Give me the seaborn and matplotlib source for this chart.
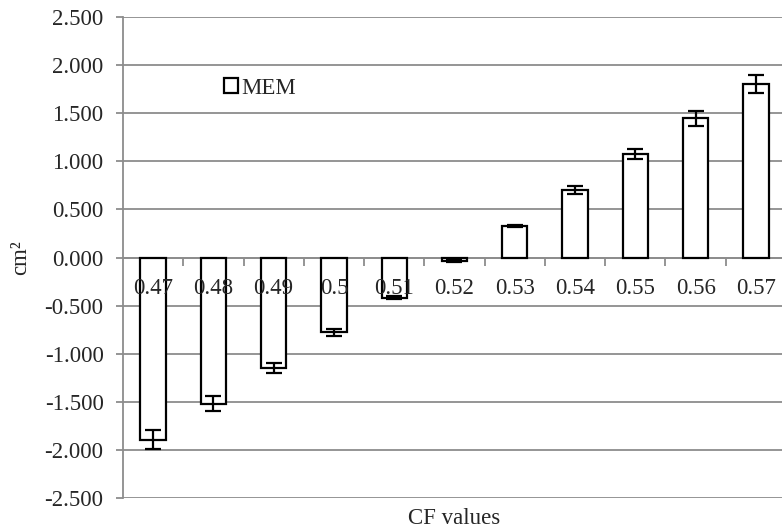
import matplotlib
matplotlib.use('Agg')
import matplotlib.pyplot as plt
import matplotlib.ticker as mticker
from matplotlib.patches import Patch
import numpy as np
import pandas as pd
import seaborn as sns

CF_VALUES = ['0.47', '0.48', '0.49', '0.5', '0.51', '0.52', '0.53', '0.54', '0.55', '0.56', '0.57']
MEM = [-1.895, -1.52, -1.15, -0.778, -0.42, -0.038, 0.332, 0.702, 1.076, 1.449, 1.805]
MEM_ERR = [0.097, 0.08, 0.055, 0.033, 0.015, 0.01, 0.01, 0.044, 0.057, 0.077, 0.09]
Y_TICKS = [-2.5, -2.0, -1.5, -1.0, -0.5, 0.0, 0.5, 1.0, 1.5, 2.0, 2.5]

GRID = '#8c8c8c'
FS = 16.5

sns.set_theme(style='white')
plt.rcParams['font.family'] = ['Liberation Serif', 'DejaVu Serif']
plt.rcParams['font.size'] = FS

df = pd.DataFrame({'CF': CF_VALUES, 'MEM': MEM})

fig = plt.figure(figsize=(7.82, 5.30), dpi=100)
ax = fig.add_axes([123 / 782, 1 - 498 / 530, 663 / 782, 481 / 530])

sns.barplot(data=df, x='CF', y='MEM', color='white', edgecolor='black',
            linewidth=1.6, width=0.42, errorbar=None, ax=ax, zorder=3)
ax.errorbar(np.arange(len(MEM)), MEM, yerr=MEM_ERR, fmt='none', ecolor='black',
            elinewidth=1.6, capsize=6, capthick=1.6, zorder=4)

ax.set_ylim(-2.5, 2.5)
ax.set_xlim(-0.5, len(CF_VALUES) - 0.5)
ax.set_yticks(Y_TICKS)
ax.yaxis.set_major_formatter(mticker.FuncFormatter(lambda v, _: f'{v:.3f}'))
ax.yaxis.grid(True, color=GRID, linewidth=1.3)
ax.set_axisbelow(True)

for s in ['top', 'right']:
    ax.spines[s].set_visible(False)
ax.spines['left'].set_color(GRID)
ax.spines['left'].set_linewidth(1.3)
ax.spines['bottom'].set_position(('data', 0))
ax.spines['bottom'].set_color(GRID)
ax.spines['bottom'].set_linewidth(1.3)

ax.tick_params(axis='y', which='major', length=5, width=1.3, color=GRID, left=True,
               pad=9, labelsize=FS)
ax.tick_params(axis='x', which='major', length=0, pad=15, labelsize=FS)
ax.xaxis.set_minor_locator(mticker.FixedLocator(np.arange(0.5, len(CF_VALUES) - 0.5, 1)))
ax.tick_params(axis='x', which='minor', length=6, width=1.3, color=GRID, bottom=True)
# tick labels sit over the bars, as in the original
ax.xaxis.set_zorder(6)

ax.set_ylabel('cm²', labelpad=10, fontsize=FS)
ax.set_xlabel('CF values', fontsize=FS)
ax.xaxis.set_label_coords(0.5, -0.021)

handle = Patch(facecolor='white', edgecolor='black', linewidth=1.6)
ax.legend([handle], ['MEM'], loc='center left', bbox_to_anchor=(0.152, 0.852),
          frameon=False, handlelength=0.6, handleheight=0.6, handletextpad=0.15,
          borderaxespad=0, borderpad=0, fontsize=FS)

fig.savefig('out.png', dpi=100)
